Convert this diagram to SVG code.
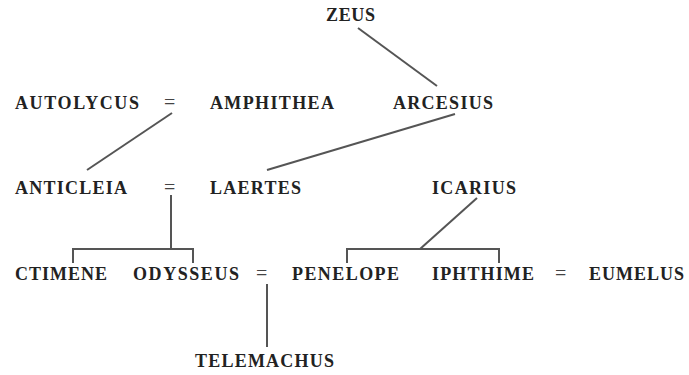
<svg xmlns="http://www.w3.org/2000/svg" width="689" height="375" viewBox="0 0 689 375">
<style>
text{font-family:"Liberation Serif","DejaVu Serif",serif;font-weight:bold;font-size:18px;fill:#222;letter-spacing:1px}
.eq{font-weight:normal;font-size:20px;fill:#444}
.c line,.c polyline{stroke:#555;stroke-width:2;fill:none}
</style>
<rect width="689" height="375" fill="#fff"/>
<g class="c" id="connectors">
<line x1="358" y1="28" x2="437" y2="86"/>
<line x1="455" y1="114" x2="267" y2="170"/>
<line x1="172" y1="113" x2="87" y2="170"/>
<line x1="171" y1="195" x2="171" y2="249"/>
<polyline points="73,263 73,249 193,249 193,263"/>
<line x1="267" y1="284" x2="267" y2="347"/>
<polyline points="347,263 347,249 499,249 499,263"/>
<line x1="477" y1="198" x2="420" y2="249"/>
</g>
<g id="zeus"><text x="326" y="21" textLength="50" lengthAdjust="spacing">ZEUS</text></g>
<g id="autolycus"><text x="15" y="109" textLength="125" lengthAdjust="spacing">AUTOLYCUS</text></g>
<g id="eq1"><text class="eq" x="164" y="109">=</text></g>
<g id="amphithea"><text x="210" y="109" textLength="125" lengthAdjust="spacing">AMPHITHEA</text></g>
<g id="arcesius"><text x="393" y="109" textLength="101" lengthAdjust="spacing">ARCESIUS</text></g>
<g id="anticleia"><text x="15" y="194" textLength="113" lengthAdjust="spacing">ANTICLEIA</text></g>
<g id="eq2"><text class="eq" x="164" y="194">=</text></g>
<g id="laertes"><text x="210" y="194" textLength="92" lengthAdjust="spacing">LAERTES</text></g>
<g id="icarius"><text x="432" y="194" textLength="85" lengthAdjust="spacing">ICARIUS</text></g>
<g id="ctimene"><text x="15" y="280" textLength="93" lengthAdjust="spacing">CTIMENE</text></g>
<g id="odysseus"><text x="133" y="280" textLength="107" lengthAdjust="spacing">ODYSSEUS</text></g>
<g id="eq3"><text class="eq" x="256" y="280">=</text></g>
<g id="penelope"><text x="292" y="280" textLength="108" lengthAdjust="spacing">PENELOPE</text></g>
<g id="iphthime"><text x="432" y="280" textLength="103" lengthAdjust="spacing">IPHTHIME</text></g>
<g id="eq4"><text class="eq" x="555" y="280">=</text></g>
<g id="eumelus"><text x="589" y="280" textLength="96" lengthAdjust="spacing">EUMELUS</text></g>
<g id="telemachus"><text x="195" y="367" textLength="140" lengthAdjust="spacing">TELEMACHUS</text></g>
</svg>
